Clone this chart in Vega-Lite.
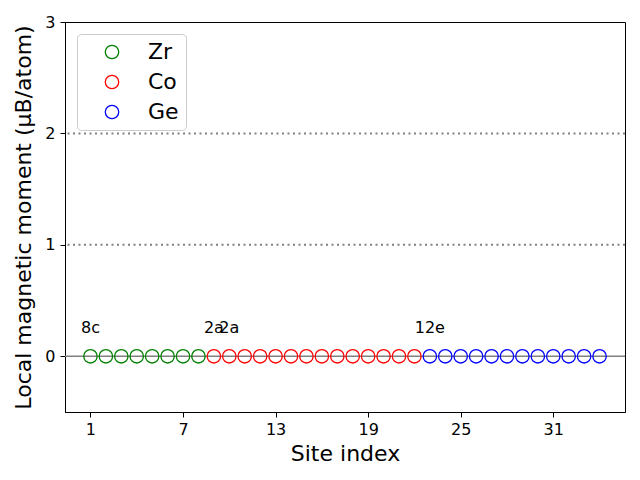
{
  "$schema": "https://vega.github.io/schema/vega-lite/v6.json",
  "width": 560,
  "height": 390,
  "autosize": "none",
  "padding": {"left": 65, "top": 22, "right": 15, "bottom": 68},
  "background": "white",
  "config": {
    "view": {"stroke": "black", "strokeWidth": 1},
    "font": "DejaVu Sans",
    "axis": {
      "labelFont": "DejaVu Sans",
      "titleFont": "DejaVu Sans",
      "labelFontSize": 16,
      "titleFontSize": 22,
      "titleFontWeight": "normal",
      "labelColor": "black",
      "titleColor": "black",
      "domainColor": "black",
      "tickColor": "black",
      "tickSize": 5,
      "grid": false
    }
  },
  "datasets": {
    "sites": [
      {"site": 1, "element": "Zr", "moment": 0},
      {"site": 2, "element": "Zr", "moment": 0},
      {"site": 3, "element": "Zr", "moment": 0},
      {"site": 4, "element": "Zr", "moment": 0},
      {"site": 5, "element": "Zr", "moment": 0},
      {"site": 6, "element": "Zr", "moment": 0},
      {"site": 7, "element": "Zr", "moment": 0},
      {"site": 8, "element": "Zr", "moment": 0},
      {"site": 9, "element": "Co", "moment": 0},
      {"site": 10, "element": "Co", "moment": 0},
      {"site": 11, "element": "Co", "moment": 0},
      {"site": 12, "element": "Co", "moment": 0},
      {"site": 13, "element": "Co", "moment": 0},
      {"site": 14, "element": "Co", "moment": 0},
      {"site": 15, "element": "Co", "moment": 0},
      {"site": 16, "element": "Co", "moment": 0},
      {"site": 17, "element": "Co", "moment": 0},
      {"site": 18, "element": "Co", "moment": 0},
      {"site": 19, "element": "Co", "moment": 0},
      {"site": 20, "element": "Co", "moment": 0},
      {"site": 21, "element": "Co", "moment": 0},
      {"site": 22, "element": "Co", "moment": 0},
      {"site": 23, "element": "Ge", "moment": 0},
      {"site": 24, "element": "Ge", "moment": 0},
      {"site": 25, "element": "Ge", "moment": 0},
      {"site": 26, "element": "Ge", "moment": 0},
      {"site": 27, "element": "Ge", "moment": 0},
      {"site": 28, "element": "Ge", "moment": 0},
      {"site": 29, "element": "Ge", "moment": 0},
      {"site": 30, "element": "Ge", "moment": 0},
      {"site": 31, "element": "Ge", "moment": 0},
      {"site": 32, "element": "Ge", "moment": 0},
      {"site": 33, "element": "Ge", "moment": 0},
      {"site": 34, "element": "Ge", "moment": 0}
    ],
    "labels": [
      {"site": 1, "y": 0.25, "label": "8c"},
      {"site": 9, "y": 0.25, "label": "2a"},
      {"site": 10, "y": 0.25, "label": "2a"},
      {"site": 23, "y": 0.25, "label": "12e"}
    ],
    "refs": [
      {"y": 0, "style": "solid"},
      {"y": 1, "style": "dotted"},
      {"y": 2, "style": "dotted"}
    ]
  },
  "layer": [
    {
      "data": {"name": "refs"},
      "transform": [{"filter": "datum.style == 'solid'"}],
      "mark": {"type": "rule", "color": "#808080", "strokeWidth": 1.5},
      "encoding": {
        "y": {"field": "y", "type": "quantitative", "scale": {"domain": [-0.5, 3], "nice": false, "zero": false}}
      }
    },
    {
      "data": {"name": "refs"},
      "transform": [{"filter": "datum.style == 'dotted'"}],
      "mark": {"type": "rule", "color": "#808080", "strokeWidth": 2, "strokeDash": [2, 3.5]},
      "encoding": {
        "y": {"field": "y", "type": "quantitative"}
      }
    },
    {
      "data": {"name": "sites"},
      "mark": {"type": "point", "shape": "circle", "filled": false, "size": 180, "strokeWidth": 1.3, "opacity": 1},
      "encoding": {
        "x": {
          "field": "site", "type": "quantitative",
          "scale": {"domain": [-0.65, 35.65], "nice": false, "zero": false},
          "axis": {"values": [1, 7, 13, 19, 25, 31], "format": "d", "title": "Site index", "labelPadding": 4, "titlePadding": 6}
        },
        "y": {
          "field": "moment", "type": "quantitative",
          "scale": {"domain": [-0.5, 3], "nice": false, "zero": false},
          "axis": {"values": [0, 1, 2, 3], "format": "d", "title": "Local magnetic moment (μB/atom)", "labelPadding": 5, "titlePadding": 9}
        },
        "color": {
          "field": "element", "type": "nominal",
          "scale": {"domain": ["Zr", "Co", "Ge"], "range": ["#008000", "#ff0000", "#0000ff"]},
          "legend": {
            "title": null,
            "orient": "none",
            "legendX": 12,
            "legendY": 12,
            "fillColor": "white",
            "strokeColor": "#cccccc",
            "cornerRadius": 4,
            "padding": 7,
            "symbolType": "circle",
            "symbolSize": 180,
            "symbolStrokeWidth": 1.3,
            "symbolOffset": 17,
            "labelFont": "DejaVu Sans",
            "labelFontSize": 22,
            "labelColor": "black",
            "labelOffset": 25,
            "rowPadding": 8
          }
        }
      }
    },
    {
      "data": {"name": "labels"},
      "mark": {"type": "text", "font": "DejaVu Sans", "fontSize": 16, "color": "black", "align": "center", "baseline": "middle"},
      "encoding": {
        "x": {"field": "site", "type": "quantitative"},
        "y": {"field": "y", "type": "quantitative"},
        "text": {"field": "label"}
      }
    }
  ]
}
